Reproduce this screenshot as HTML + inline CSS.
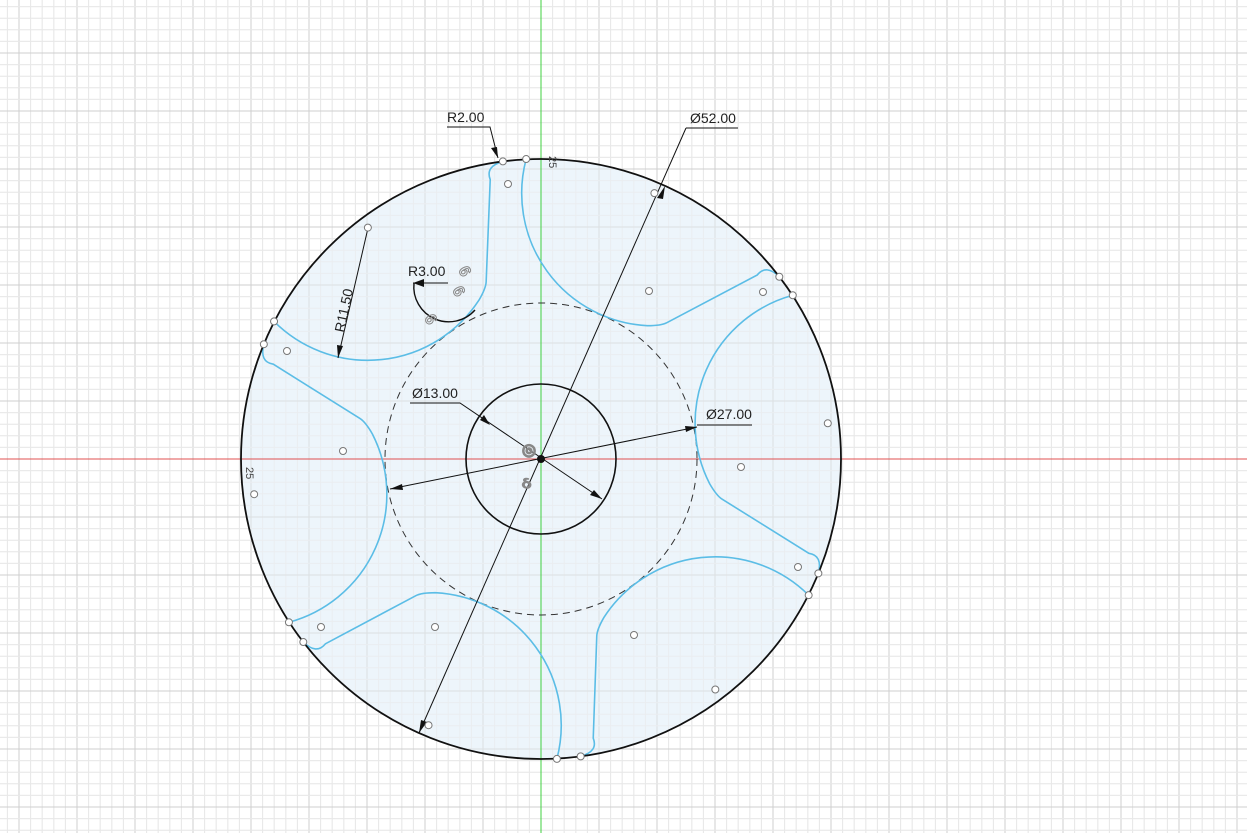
<!DOCTYPE html>
<html><head><meta charset="utf-8"><style>
html,body{margin:0;padding:0;background:#fff;}
svg{display:block;font-family:"Liberation Sans",sans-serif;}
</style></head><body>
<svg id="s" width="1247" height="833" viewBox="0 0 1247 833">
<g id="grid"></g>
<circle cx="541" cy="459" r="300" fill="#edf5fb" stroke="none"/>
<g id="gridover"></g>
<line x1="0" y1="459" x2="1247" y2="459" stroke="#e05050" stroke-width="1"/>
<line x1="541" y1="0" x2="541" y2="833" stroke="#40d040" stroke-width="1"/>
<circle cx="541" cy="459" r="156" fill="none" stroke="#333" stroke-width="1" stroke-dasharray="7,5"/>
<circle cx="541" cy="459" r="75" fill="none" stroke="#111" stroke-width="1.6"/>
<g id="blue"></g>
<circle cx="541" cy="459" r="300" fill="none" stroke="#111" stroke-width="1.8"/>
<g id="dims" stroke="#111" stroke-width="1" fill="none">
  <line x1="419" y1="733" x2="686" y2="128"/>
  <line x1="686" y1="128" x2="738" y2="128"/>
  <line x1="390" y1="489" x2="697" y2="427"/>
  <line x1="697" y1="425" x2="752" y2="425"/>
  <polyline points="410,403 460,403 602,499"/>
  <line x1="368" y1="228" x2="338" y2="358"/>
  <line x1="448" y1="283" x2="413" y2="283"/>
  <path d="M414,283 A35,35 0 0 0 475,310" stroke-width="1.4"/>
  <polyline points="447,127 490,127 498,158"/>
</g>
<g fill="#111">
  <polygon points="665,186 657,198 663,199"/>
  <polygon points="419,733 421,720 427,722"/>
  <polygon points="697,427 685,426 686,432"/>
  <polygon points="390,489 402,484 403,490"/>
  <polygon points="602,499 590,495 594,490"/>
  <polygon points="490,425 484,415 480,420"/>
  <polygon points="338,358 337,345 343,346"/>
  <polygon points="413,283 424,279 424,287"/>
  <polygon points="498,158 491,148 497,147"/>
</g>
<g font-size="14" fill="#222">
  <text x="690" y="123">Ø52.00</text>
  <text x="706" y="419">Ø27.00</text>
  <text x="412" y="398">Ø13.00</text>
  <text x="447" y="122">R2.00</text>
  <text x="408" y="276">R3.00</text>
  <text x="0" y="0" transform="translate(344,333) rotate(-78)">R11.50</text>
  <text x="0" y="0" font-size="11" fill="#444" transform="translate(549,156) rotate(90)">25</text>
  <text x="0" y="0" font-size="11" fill="#444" transform="translate(246,467) rotate(90)">25</text>
</g>
<g font-size="16" fill="none" stroke="#888" stroke-width="1" font-weight="bold">
  <text x="0" y="0" transform="translate(458,270) rotate(60)">6</text>
  <text x="0" y="0" transform="translate(452,290) rotate(60)">6</text>
  <text x="0" y="0" transform="translate(424,318) rotate(60)">6</text>
  <text x="522" y="455">◎</text>
  <text x="522" y="488">ઠ</text>
</g>
<g id="pts"></g>
<circle cx="541" cy="459" r="4" fill="#111"/>
</svg>
<script>
var arcCenterAngles=[126.8,66.9,7.1,-52.9,-112.9,-173];
var outerDiameter=52, arcRadiusUnits=11.5;
var extraPoints=[[508,184],[649,291],[763,292],[741,467],[798,567],[634,635],[435,627],[321,627],[287,351],[343,451]];
var NS="http://www.w3.org/2000/svg";
var cx=541, cy=459, S=300/26;
var R=outerDiameter/2*S, rc=289, ra=arcRadiusUnits*S;
function P(r,a){a=a*Math.PI/180;return [cx+r*Math.cos(a), cy-r*Math.sin(a)];}
var g=document.getElementById('grid');
function gl(x1,y1,x2,y2,c){var l=document.createElementNS(NS,'line');l.setAttribute('x1',x1);l.setAttribute('y1',y1);l.setAttribute('x2',x2);l.setAttribute('y2',y2);l.setAttribute('stroke',c);l.setAttribute('stroke-width',1);


g.appendChild(l);}
var step=58/5;
for(var k=-60;k<=70;k++){var x=cx+k*step;if(x<0||x>1247)continue;gl(x,0,x,833,k%5==0?'#cfcfcf':'#e8e8e8');}
for(var k=-60;k<=60;k++){var y=cy+k*step;if(y<0||y>833)continue;gl(0,y,1247,y,k%5==0?'#cfcfcf':'#e8e8e8');}
var go=document.getElementById('gridover');
go.innerHTML=g.innerHTML;go.setAttribute('opacity','0.55');
var b=document.getElementById('blue'), pts=document.getElementById('pts');
function pt(x,y){var c=document.createElementNS(NS,'circle');c.setAttribute('cx',x);c.setAttribute('cy',y);c.setAttribute('r',3.5);c.setAttribute('fill','#fff');c.setAttribute('stroke','#777');


pts.appendChild(c);}
arcCenterAngles.forEach(function(t){
  var C=P(rc,t);
  var sa=(t+98.2)*Math.PI/180, ea=(t+200)*Math.PI/180, ea2=(t+206)*Math.PI/180;
  var A=[C[0]+ra*Math.cos(sa), C[1]-ra*Math.sin(sa)];
  var E=[C[0]+ra*Math.cos(ea), C[1]-ra*Math.sin(ea)];
  var Ec=[C[0]+ra*Math.cos(ea2), C[1]-ra*Math.sin(ea2)];
  var F=P(284,t-26.5), Q=P(R,t-29.5), Qp=P(R-2,t-26);
  var E2=[Ec[0]+(F[0]-Ec[0])*0.06, Ec[1]+(F[1]-Ec[1])*0.06];
  var d='M'+A[0]+','+A[1]+' A'+ra+','+ra+' 0 0 0 '+E[0]+','+E[1]+' Q'+Ec[0]+','+Ec[1]+' '+E2[0]+','+E2[1]+' L'+F[0]+','+F[1]+' Q'+Qp[0]+','+Qp[1]+' '+Q[0]+','+Q[1];
  var p=document.createElementNS(NS,'path');p.setAttribute('d',d);p.setAttribute('fill','none');p.setAttribute('stroke','#5bbde6');p.setAttribute('stroke-width','1.6');
  
  
  b.appendChild(p);
  pt(C[0],C[1]);pt(A[0],A[1]);pt(Q[0],Q[1]);
});
extraPoints.forEach(function(q){pt(q[0],q[1]);});
</script>
</body></html>
